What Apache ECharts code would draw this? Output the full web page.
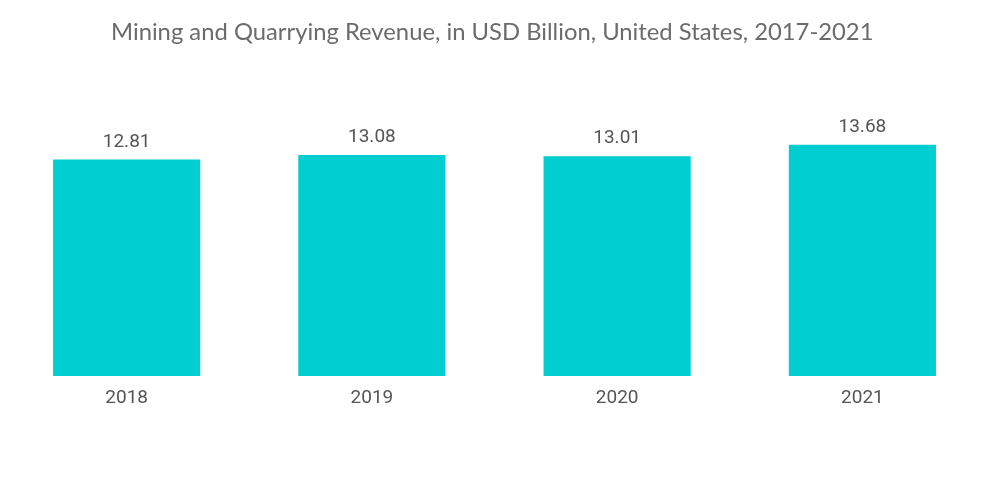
<!DOCTYPE html>
<html>
<head>
<meta charset="utf-8">
<script src="https://cdn.jsdelivr.net/npm/echarts@6/dist/echarts.min.js"></script>
<style>
  html, body { margin: 0; padding: 0; background: #fff; }
  #chart { width: 1000px; height: 504px; }
</style>
</head>
<body>
<div id="chart"></div>
<script>
// years and revenue (USD billion)
var years = ['2018', '2019', '2020', '2021'];
var revenue = [12.81, 13.08, 13.01, 13.68];

var myChart = echarts.init(document.getElementById('chart'));
var option = {
    animation: false,
    title: {
        text: 'Mining and Quarrying Revenue, in USD Billion, United States, 2017-2021',
        left: 106,
        top: 15,
        textStyle: {
            fontFamily: 'Lato',
            fontWeight: 'normal',
            fontSize: 23.8,
            color: '#6b6b6b'
        }
    },
    grid: {
        left: 4,
        right: 15,
        top: 122.5,
        bottom: 128
    },
    xAxis: {
        type: 'category',
        data: years,
        axisLine: { show: false },
        axisTick: { show: false },
        axisLabel: {
            margin: 13,
            fontFamily: 'Roboto',
            fontSize: 19,
            color: '#555555'
        }
    },
    yAxis: {
        type: 'value',
        min: 0,
        max: 15,
        show: false,
        splitLine: { show: false }
    },
    series: [{
        type: 'bar',
        data: revenue,
        barWidth: '60%',
        itemStyle: { color: '#00CED1' },
        label: {
            show: true,
            position: 'top',
            distance: 8,
            fontFamily: 'Roboto',
            fontSize: 19,
            color: '#555555'
        }
    }]
};
myChart.setOption(option);
</script>
</body>
</html>
